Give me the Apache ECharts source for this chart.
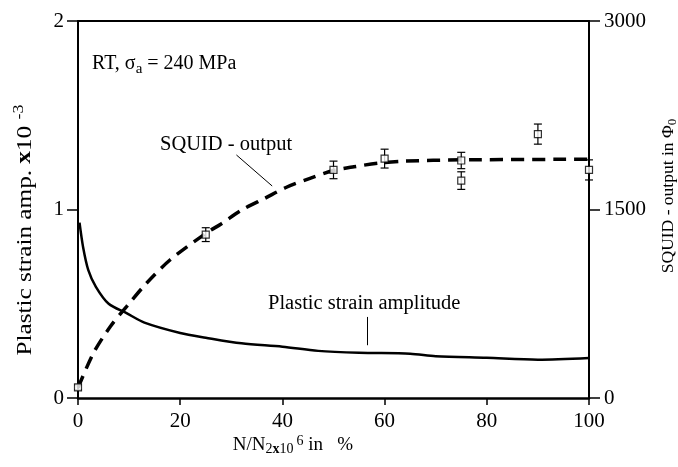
<!DOCTYPE html>
<html lang="en">
<head>
    <meta charset="UTF-8">
    <title>SQUID output and plastic strain amplitude</title>
    <script src="https://cdn.jsdelivr.net/npm/echarts@6/dist/echarts.min.js"></script>
    <style>
        html, body { margin: 0; padding: 0; background: #fff; }
    </style>
</head>
<body>
<div id="main" style="width: 678px;height: 467px;"></div>
<script>
    // plastic strain amplitude (left axis, x10^-3)
    var strainX = [0.3, 1, 2, 3.5, 6, 9.5, 13, 20, 25, 32, 40, 47, 55, 65, 70, 80, 90, 100];
    var strainY = [0.93, 0.80, 0.68, 0.59, 0.50, 0.45, 0.40, 0.345, 0.32, 0.29, 0.272, 0.25, 0.24, 0.235, 0.222, 0.213, 0.203, 0.212];

    // SQUID output fit curve (right axis, Phi0)
    var squidX = [0, 3, 6.3, 9.5, 13.4, 18, 25, 28, 32, 36.6, 40.8, 45.4, 50, 54, 59, 64, 75, 100];
    var squidY = [80, 356, 567, 727, 913, 1098, 1310, 1385, 1495, 1590, 1677, 1748, 1810, 1840, 1870, 1885, 1895, 1900];

    // measured SQUID points with error
    var ptX = [0, 25, 50, 60, 75, 75, 90, 100];
    var ptY = [85, 1300, 1815, 1905, 1890, 1730, 2100, 1815];
    var ptErr = [20, 55, 70, 75, 65, 70, 80, 80];

    // tick labels
    var xTicks = [0, 20, 40, 60, 80, 100];
    var leftTicks = [0, 1, 2];
    var rightTicks = [0, 1500, 3000];

    // leader lines for the curve labels (data coords)
    var squidLeader = [[31, 1934], [38, 1687]];
    var strainLeader = [[56.6, 0.43], [56.6, 0.28]];

    var serif = 'Liberation Serif';

    function pairs(xs, ys) {
        var out = [];
        for (var i = 0; i < xs.length; i++) out.push([xs[i], ys[i]]);
        return out;
    }
    var errData = [];
    for (var i = 0; i < ptX.length; i++) errData.push([ptX[i], ptY[i], ptErr[i]]);

    var myChart = echarts.init(document.getElementById('main'));

    var axisLabelStyle = { color: '#000', fontFamily: serif, fontSize: 21 };
    function plain(v) { return String(v); }

    var option = {
        animation: false,
        backgroundColor: '#fff',
        grid: { left: 78, right: 89, top: 21, bottom: 69 },
        xAxis: [
            {
                type: 'value', min: xTicks[0], max: xTicks[xTicks.length - 1], interval: xTicks[1] - xTicks[0],
                axisLine: { show: true, lineStyle: { color: '#000', width: 2.5 } },
                axisTick: { show: true, length: 7, lineStyle: { color: '#000', width: 1.5 } },
                axisLabel: Object.assign({ margin: 13, formatter: plain }, axisLabelStyle),
                splitLine: { show: false }
            },
            {
                type: 'value', position: 'top', min: 0, max: 100,
                axisLine: { show: true, onZero: false, lineStyle: { color: '#000', width: 2 } },
                axisTick: { show: false }, axisLabel: { show: false }, splitLine: { show: false }
            }
        ],
        yAxis: [
            {
                type: 'value', min: leftTicks[0], max: leftTicks[leftTicks.length - 1], interval: 1,
                axisLine: { show: true, onZero: false, lineStyle: { color: '#000', width: 2 } },
                axisTick: { show: true, length: 11, lineStyle: { color: '#000', width: 1.5 } },
                axisLabel: Object.assign({ margin: 14, formatter: plain }, axisLabelStyle),
                splitLine: { show: false }
            },
            {
                type: 'value', position: 'right', min: rightTicks[0], max: rightTicks[rightTicks.length - 1], interval: 1500,
                axisLine: { show: true, onZero: false, lineStyle: { color: '#000', width: 2 } },
                axisTick: { show: true, length: 11, lineStyle: { color: '#000', width: 1.5 } },
                axisLabel: Object.assign({ margin: 15, formatter: plain }, axisLabelStyle),
                splitLine: { show: false }
            },
            {
                // inner half of the crossing ticks on the right axis
                type: 'value', position: 'right', min: 0, max: 3000, interval: 1500,
                axisLine: { show: false },
                axisTick: { show: true, inside: true, length: 11, lineStyle: { color: '#000', width: 1.5 } },
                axisLabel: { show: false }, splitLine: { show: false }
            }
        ],
        series: [
            {
                name: 'Plastic strain amplitude',
                type: 'line', xAxisIndex: 0, yAxisIndex: 0,
                data: pairs(strainX, strainY),
                smooth: 0.3, showSymbol: false,
                lineStyle: { color: '#000', width: 2.5 },
                markLine: {
                    silent: true, symbol: 'none', label: { show: false },
                    lineStyle: { color: '#000', width: 1, type: 'solid' },
                    data: [[{ coord: strainLeader[0] }, { coord: strainLeader[1] }]]
                }
            },
            {
                name: 'SQUID - output',
                type: 'line', xAxisIndex: 0, yAxisIndex: 1,
                data: pairs(squidX, squidY),
                smooth: 0.3, showSymbol: false,
                lineStyle: { color: '#000', width: 3.5, type: [13, 8] },
                markLine: {
                    silent: true, symbol: 'none', label: { show: false },
                    lineStyle: { color: '#000', width: 1, type: 'solid' },
                    data: [[{ coord: squidLeader[0] }, { coord: squidLeader[1] }]]
                }
            },
            {
                name: 'error',
                type: 'custom', xAxisIndex: 0, yAxisIndex: 1,
                data: errData,
                renderItem: function (params, api) {
                    var x = api.value(0), v = api.value(1), e = api.value(2);
                    var hi = api.coord([x, v + e]);
                    var lo = api.coord([x, v - e]);
                    var w = 4;
                    var st = { stroke: '#000', lineWidth: 1.2 };
                    return {
                        type: 'group',
                        children: [
                            { type: 'line', shape: { x1: hi[0], y1: hi[1], x2: lo[0], y2: lo[1] }, style: st },
                            { type: 'line', shape: { x1: hi[0] - w, y1: hi[1], x2: hi[0] + w, y2: hi[1] }, style: st },
                            { type: 'line', shape: { x1: lo[0] - w, y1: lo[1], x2: lo[0] + w, y2: lo[1] }, style: st }
                        ]
                    };
                },
                z: 3
            },
            {
                name: 'points',
                type: 'scatter', xAxisIndex: 0, yAxisIndex: 1,
                data: pairs(ptX, ptY),
                symbol: 'rect', symbolSize: 7,
                itemStyle: { color: '#fff', borderColor: '#000', borderWidth: 1.2 },
                z: 4
            }
        ],
        graphic: [
            {
                type: 'text', left: 92, top: 54,
                style: {
                    text: '{n|RT, σ}{s|a}{n| = 240 MPa}',
                    rich: {
                        n: { fontFamily: serif, fontSize: 20, fill: '#000' },
                        s: { fontFamily: serif, fontSize: 15, fill: '#000', padding: [10, 0, 0, 0] }
                    }
                }
            },
            {
                type: 'text', left: 160, top: 134,
                style: { text: 'SQUID - output', fontFamily: serif, fontSize: 20.5, fill: '#000' }
            },
            {
                type: 'text', left: 268, top: 293,
                style: { text: 'Plastic strain amplitude', fontFamily: serif, fontSize: 20.5, fill: '#000' }
            },
            {
                type: 'text', x: 293, y: 445,
                style: {
                    text: '{n|N/N}{s|2}{b|x}{s|10}{p|6}{n| in   %}',
                    align: 'center', verticalAlign: 'middle',
                    rich: {
                        n: { fontFamily: serif, fontSize: 19, fill: '#000' },
                        s: { fontFamily: serif, fontSize: 14, fill: '#000', padding: [8, 0, 0, 0] },
                        b: { fontFamily: serif, fontSize: 14, fontWeight: 'bold', fill: '#000', padding: [8, 0, 0, 0] },
                        p: { fontFamily: serif, fontSize: 14, fill: '#000', padding: [0, 0, 8, 3] }
                    }
                }
            },
            {
                // the original label is drawn wide, so stretch it along its reading direction
                type: 'text', x: 25, y: 230, rotation: Math.PI / 2, scaleX: 1.2,
                style: {
                    text: '{n|Plastic strain amp. }{b|x}{n|10 }{p|-3}',
                    align: 'center', verticalAlign: 'middle',
                    rich: {
                        n: { fontFamily: serif, fontSize: 21, fill: '#000' },
                        b: { fontFamily: serif, fontSize: 21, fontWeight: 'bold', fill: '#000' },
                        p: { fontFamily: serif, fontSize: 15, fill: '#000', padding: [0, 0, 12, 0] }
                    }
                }
            },
            {
                type: 'text', x: 668, y: 196, rotation: Math.PI / 2,
                style: {
                    text: '{n|SQUID - output in Φ}{s|0}',
                    align: 'center', verticalAlign: 'middle',
                    rich: {
                        n: { fontFamily: serif, fontSize: 17.5, fill: '#000' },
                        s: { fontFamily: serif, fontSize: 13, fill: '#000', padding: [10, 0, 0, 0] }
                    }
                }
            }
        ]
    };

    myChart.setOption(option);
</script>
</body>
</html>
